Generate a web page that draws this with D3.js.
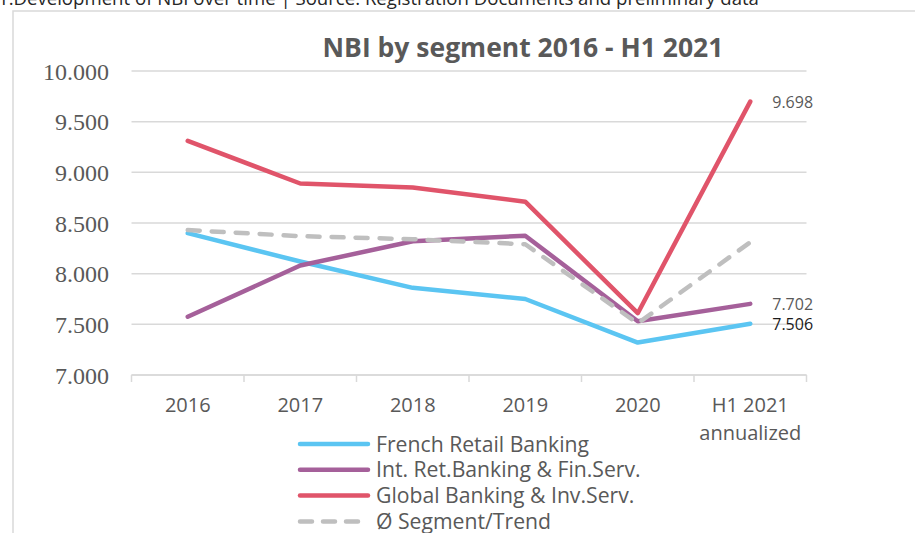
<!DOCTYPE html>
<html lang="en">
<head>
    <meta charset="UTF-8">
    <style>
        body { margin: 0; background: #fff; }
        svg { display: block; }
    </style>
    <script src="https://d3js.org/d3.v7.min.js"></script>
</head>
<body>
    <svg id="chart" width="915" height="533" xmlns="http://www.w3.org/2000/svg"></svg>

    <script>
        // chart data (NBI in EUR m)
        const categories = ["2016", "2017", "2018", "2019", "2020", "H1 2021 annualized"];
        const tickLabels = [["2016"], ["2017"], ["2018"], ["2019"], ["2020"], ["H1 2021", "annualized"]];
        const frenchRetail = [8400, 8120, 7860, 7750, 7320, 7506];
        const intRetail = [7575, 8080, 8320, 8375, 7530, 7702];
        const globalBanking = [9310, 8890, 8850, 8710, 7610, 9698];
        const segmentTrend = [8430, 8370, 8340, 8290, 7510, 8310];
        const yTicks = [7000, 7500, 8000, 8500, 9000, 9500, 10000];
        const seriesNames = ["French Retail Banking", "Int. Ret.Banking & Fin.Serv.", "Global Banking & Inv.Serv.", "Ø Segment/Trend"];

        const series = [
            { name: seriesNames[0], values: frenchRetail, color: "#5bc5f2", dash: null },
            { name: seriesNames[1], values: intRetail, color: "#a5609a", dash: null },
            { name: seriesNames[2], values: globalBanking, color: "#e0546a", dash: null },
            { name: seriesNames[3], values: segmentTrend, color: "#bfbfbf", dash: "12,12" }
        ];

        const svg = d3.select("#chart");
        const textColor = "#595959";
        const gridColor = "#d9d9d9";

        // number format with "." as thousands separator
        const fmt = d3.formatLocale({ decimal: ",", thousands: ".", grouping: [3], currency: ["", ""] }).format(",.0f");

        // caption above the chart box (cut off at the top)
        svg.append("text")
            .attr("x", -2)
            .attr("y", 4.5)
            .attr("font-family", "Open Sans")
            .attr("font-size", "18.6px")
            .attr("fill", "#262626")
            .text("1.Development of NBI over time | Source: Registration Documents and preliminary data");

        // chart box
        svg.append("rect")
            .attr("x", 13)
            .attr("y", 11)
            .attr("width", 960)
            .attr("height", 600)
            .attr("fill", "#fff")
            .attr("stroke", gridColor)
            .attr("stroke-width", 1.5);

        // scales
        const x = d3.scaleBand()
            .domain(categories)
            .range([131.5, 806.5]);

        const y = d3.scaleLinear()
            .domain([7000, 10000])
            .range([375, 71]);

        // title
        svg.append("text")
            .attr("x", 523)
            .attr("y", 56.5)
            .attr("text-anchor", "middle")
            .attr("font-family", "Open Sans")
            .attr("font-weight", "700")
            .attr("font-size", "26.5px")
            .attr("fill", textColor)
            .text("NBI by segment 2016 - H1 2021");

        // horizontal gridlines
        svg.append("g")
            .selectAll("line")
            .data(yTicks)
            .join("line")
            .attr("x1", 131.5)
            .attr("x2", 806.5)
            .attr("y1", d => y(d))
            .attr("y2", d => y(d))
            .attr("stroke", gridColor)
            .attr("stroke-width", 1.5);

        // y labels
        svg.append("g")
            .selectAll("text")
            .data(yTicks)
            .join("text")
            .attr("x", 109)
            .attr("y", d => y(d) + 8.5)
            .attr("text-anchor", "end")
            .attr("font-family", "Liberation Serif")
            .attr("font-size", "24px")
            .attr("fill", textColor)
            .text(d => fmt(d));

        // x axis line with ticks at band edges
        const xAxis = svg.append("g")
            .attr("transform", `translate(0,${y(7000)})`);
        xAxis.append("line")
            .attr("x1", 131.5)
            .attr("x2", 806.5)
            .attr("stroke", gridColor)
            .attr("stroke-width", 1.5);
        xAxis.selectAll("line.edge")
            .data(categories.concat([null]))
            .join("line")
            .attr("class", "edge")
            .attr("x1", (d, i) => x.range()[0] + i * x.step())
            .attr("x2", (d, i) => x.range()[0] + i * x.step())
            .attr("y1", 0)
            .attr("y2", 7)
            .attr("stroke", gridColor)
            .attr("stroke-width", 1.5);

        // x labels
        const xLabels = svg.append("g")
            .selectAll("text")
            .data(categories)
            .join("text")
            .attr("text-anchor", "middle")
            .attr("font-family", "Open Sans")
            .attr("font-size", "20px")
            .attr("fill", textColor);

        xLabels.selectAll("tspan")
            .data((d, i) => tickLabels[i].map(t => ({ t, c: d })))
            .join("tspan")
            .attr("x", d => x(d.c) + x.bandwidth() / 2)
            .attr("y", (d, j) => 412 + j * 28)
            .text(d => d.t);

        // lines
        const line = d3.line()
            .x((d, i) => x(categories[i]) + x.bandwidth() / 2)
            .y(d => y(d));

        series.forEach(s => {
            svg.append("path")
                .datum(s.values)
                .attr("d", line)
                .attr("fill", "none")
                .attr("stroke", s.color)
                .attr("stroke-width", 4.5)
                .attr("stroke-linecap", "round")
                .attr("stroke-linejoin", "round")
                .attr("stroke-dasharray", s.dash);
        });

        // end labels
        const endLabels = [
            { v: globalBanking[5], color: textColor },
            { v: intRetail[5], color: textColor },
            { v: frenchRetail[5], color: "#1a1a1a" }
        ];
        svg.append("g")
            .selectAll("text")
            .data(endLabels)
            .join("text")
            .attr("x", x(categories[5]) + x.bandwidth() / 2 + 22)
            .attr("y", d => y(d.v) + 6.5)
            .attr("font-family", "Open Sans")
            .attr("font-size", "16px")
            .attr("fill", d => d.color)
            .text(d => fmt(d.v));

        // legend
        const legend = svg.append("g")
            .selectAll("g")
            .data(series)
            .join("g")
            .attr("transform", (d, i) => `translate(298,${444 + i * 25.8})`);

        legend.append("line")
            .attr("x1", 2)
            .attr("x2", 70)
            .attr("stroke", d => d.color)
            .attr("stroke-width", 4.5)
            .attr("stroke-linecap", "round")
            .attr("stroke-dasharray", d => d.dash ? "12,11" : null);

        legend.append("text")
            .attr("x", 78)
            .attr("y", 7.5)
            .attr("font-family", "Open Sans")
            .attr("font-size", "21.2px")
            .attr("fill", textColor)
            .text(d => d.name);
    </script>
</body>
</html>
